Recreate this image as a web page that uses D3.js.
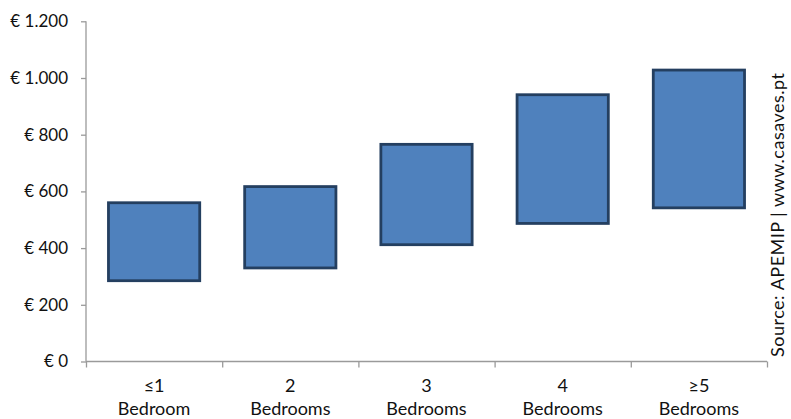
<!DOCTYPE html>
<meta charset="utf-8">
<style>
body { margin: 0; background: #fff; }
svg text { font-family: "Lato", "Open Sans", sans-serif; fill: #111; }
.axis path, .axis line { stroke: #9a9a9a; stroke-width: 1.3px; }
</style>
<svg width="791" height="419"></svg>
<script src="https://cdnjs.cloudflare.com/ajax/libs/d3/7.8.5/d3.min.js"></script>
<script>

var categories = ["≤1 Bedroom", "2 Bedrooms", "3 Bedrooms", "4 Bedrooms", "≥5 Bedrooms"];
var labelTop = ["≤1", "2", "3", "4", "≥5"];
var labelBottom = ["Bedroom", "Bedrooms", "Bedrooms", "Bedrooms", "Bedrooms"];
var minRent = [285, 330, 412, 487, 542];
var maxRent = [560, 617, 766, 941, 1028];
var yTicks = [0, 200, 400, 600, 800, 1000, 1200];
var source = "Source: APEMIP | www.casaves.pt";

var svg = d3.select("svg");
var plotLeft = 86, plotRight = 767, plotTop = 21.3, plotBottom = 361.5;

var x = d3.scaleBand()
    .domain(categories)
    .range([plotLeft, plotRight])
    .paddingInner(0.33)
    .paddingOuter(0.165);

var y = d3.scaleLinear()
    .domain([0, 1200])
    .range([plotBottom, plotTop]);

var fmt = function(v) {
  return "€ " + d3.format(",")(v).replace(/,/g, ".");
};

// y axis
var yAxis = svg.append("g")
    .attr("class", "axis")
    .attr("transform", "translate(" + plotLeft + ",0)")
    .call(d3.axisLeft(y).tickValues(yTicks).tickSize(5).tickFormat(fmt));
yAxis.selectAll("text")
    .attr("x", -18)
    .style("font-size", "17px")
    .style("font-family", "Lato, sans-serif")
    .attr("fill", "#111");
yAxis.select(".domain").attr("d", "M0," + plotTop + "V" + plotBottom);

// x axis: ticks at category boundaries
var xb = d3.scaleLinear().domain([0, categories.length]).range([plotLeft, plotRight]);
var xAxis = svg.append("g")
    .attr("class", "axis")
    .attr("transform", "translate(0," + plotBottom + ")")
    .call(d3.axisBottom(xb).ticks(categories.length).tickSize(6).tickFormat(""));
xAxis.select(".domain").attr("d", "M" + plotLeft + ",0H" + plotRight);

// floating bars
svg.append("g")
  .selectAll("rect")
  .data(categories)
  .enter().append("rect")
    .attr("x", function(d) { return x(d); })
    .attr("width", x.bandwidth())
    .attr("y", function(d, i) { return y(maxRent[i]); })
    .attr("height", function(d, i) { return y(minRent[i]) - y(maxRent[i]); })
    .attr("fill", "#4f81bd")
    .attr("stroke", "#243f60")
    .attr("stroke-width", 2.8);

// category labels
var lab = svg.append("g")
  .selectAll("text")
  .data(categories)
  .enter().append("text")
    .attr("text-anchor", "middle")
    .style("font-size", "18px")
    .attr("x", function(d) { return x(d) + x.bandwidth() / 2; });
lab.append("tspan")
    .attr("y", 392)
    .text(function(d, i) { return labelTop[i]; });
lab.append("tspan")
    .attr("x", function(d) { return x(d) + x.bandwidth() / 2; })
    .attr("y", 415)
    .text(function(d, i) { return labelBottom[i]; });

// source note
svg.append("text")
    .attr("transform", "translate(784,357) rotate(-90)")
    .style("font-size", "18px")
    .attr("textLength", 284)
    .attr("lengthAdjust", "spacing")
    .text(source);

</script>
